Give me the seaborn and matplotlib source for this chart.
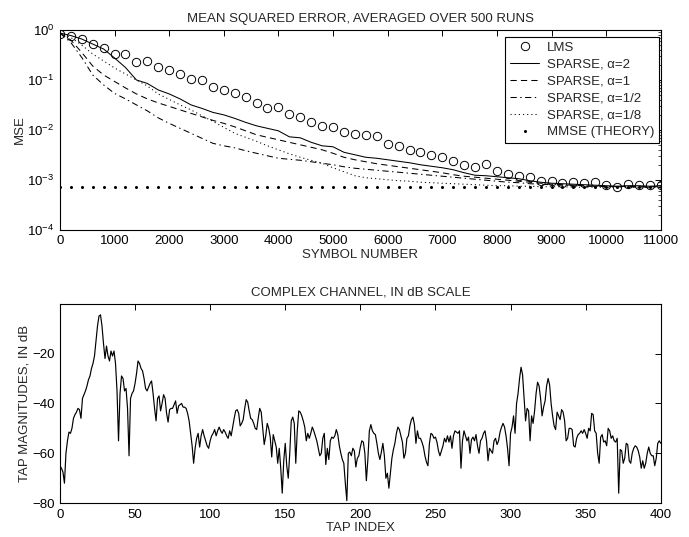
import numpy as np
import pandas as pd
import matplotlib
matplotlib.use("Agg")
import matplotlib.pyplot as plt
import seaborn as sns

# ---------------- learning curves (MSE vs. symbol number) ----------------
symbols = list(range(0, 11001, 200))

# log10 of the mean squared error, sampled every 200 symbols
lms_log10 = [-0.075, -0.11, -0.175, -0.28, -0.36, -0.47, -0.48, -0.65, -0.63, -0.75,
             -0.81, -0.88, -0.98, -1.01, -1.15, -1.20, -1.26, -1.35, -1.455, -1.555,
             -1.54, -1.68, -1.75, -1.85, -1.92, -1.95, -2.05, -2.09, -2.10, -2.13,
             -2.28, -2.32, -2.40, -2.45, -2.50, -2.55, -2.62, -2.70, -2.74, -2.68,
             -2.82, -2.88, -2.92, -2.95, -3.02, -3.02, -3.06, -3.05, -3.07, -3.04,
             -3.10, -3.14, -3.08, -3.10, -3.11, -3.10]
sparse_a2_log10 = [-0.06, -0.11, -0.18, -0.28, -0.38, -0.56, -0.75, -1.00, -1.07, -1.20,
                   -1.28, -1.38, -1.50, -1.57, -1.65, -1.70, -1.77, -1.85, -1.92, -1.97,
                   -2.02, -2.14, -2.16, -2.25, -2.32, -2.34, -2.45, -2.50, -2.55, -2.57,
                   -2.60, -2.63, -2.66, -2.70, -2.73, -2.76, -2.80, -2.86, -2.91, -2.92,
                   -2.94, -2.96, -2.98, -3.02, -3.05, -3.07, -3.08, -3.09, -3.10, -3.11,
                   -3.12, -3.13, -3.12, -3.12, -3.13, -3.12]
sparse_a1_log10 = [-0.06, -0.20, -0.45, -0.72, -0.90, -1.03, -1.16, -1.28, -1.38, -1.46,
                   -1.53, -1.60, -1.67, -1.74, -1.81, -1.87, -1.94, -2.02, -2.10, -2.15,
                   -2.20, -2.25, -2.30, -2.35, -2.40, -2.47, -2.55, -2.60, -2.64, -2.68,
                   -2.71, -2.74, -2.77, -2.80, -2.83, -2.86, -2.90, -2.93, -2.95, -2.97,
                   -2.99, -3.01, -3.03, -3.05, -3.07, -3.09, -3.10, -3.11, -3.12, -3.13,
                   -3.13, -3.14, -3.13, -3.14, -3.14, -3.14]
sparse_a12_log10 = [-0.06, -0.25, -0.55, -0.90, -1.10, -1.27, -1.38, -1.50, -1.62, -1.76,
                    -1.87, -1.97, -2.07, -2.17, -2.27, -2.32, -2.36, -2.42, -2.47, -2.52,
                    -2.57, -2.59, -2.61, -2.64, -2.67, -2.70, -2.74, -2.77, -2.79, -2.81,
                    -2.83, -2.85, -2.87, -2.89, -2.91, -2.93, -2.95, -2.97, -2.99, -3.01,
                    -3.03, -3.05, -3.06, -3.08, -3.09, -3.10, -3.11, -3.12, -3.13, -3.13,
                    -3.14, -3.14, -3.14, -3.15, -3.15, -3.15]
sparse_a18_log10 = [-0.06, -0.15, -0.30, -0.48, -0.62, -0.76, -0.88, -1.00, -1.12, -1.28,
                    -1.39, -1.50, -1.60, -1.72, -1.83, -1.95, -2.07, -2.15, -2.23, -2.32,
                    -2.40, -2.48, -2.55, -2.61, -2.67, -2.76, -2.84, -2.92, -2.96, -2.98,
                    -3.00, -3.02, -3.03, -3.05, -3.06, -3.07, -3.08, -3.09, -3.10, -3.11,
                    -3.12, -3.12, -3.13, -3.13, -3.14, -3.14, -3.14, -3.15, -3.15, -3.15,
                    -3.15, -3.15, -3.15, -3.15, -3.15, -3.15]
mmse_theory = 7.0e-4

series_labels = ["LMS", "SPARSE, \u03b1=2", "SPARSE, \u03b1=1",
                 "SPARSE, \u03b1=1/2", "SPARSE, \u03b1=1/8", "MMSE (THEORY)"]

# ---------------- channel taps in dB ----------------
tap_db = [
    -65, -66, -67.5, -72, -60, -55, -51.5, -52, -50, -46,
    -44.5, -43.5, -42, -42.5, -46, -38, -36.5, -35, -33, -30.5,
    -29, -26, -24, -21, -15, -9, -5, -4.5, -9, -16,
    -22, -17, -21, -23, -19, -21, -19, -24, -35, -55,
    -36, -29, -30, -35, -34, -42, -61, -38, -36, -35,
    -32, -28, -23, -24, -26, -27, -30, -34, -35, -33.5,
    -32, -31, -36, -42, -47, -38, -37, -43, -40, -36.5,
    -38, -44, -47.5, -42.5, -42, -42, -40.5, -39, -44, -41,
    -40.5, -40, -41.5, -41.5, -42, -44, -47, -52, -57, -64,
    -58, -54, -52, -57.5, -53, -50.5, -53, -55, -57, -58,
    -55, -53, -52, -50.5, -53, -51, -49.5, -51, -52, -50.5,
    -51.5, -53, -54, -51, -53, -49.5, -46, -43, -42.5, -44,
    -49, -48, -46.5, -42, -38.5, -39.5, -43, -46, -46.5, -48,
    -50, -50.5, -46, -42, -43.5, -50, -56.5, -53, -48, -50,
    -53.5, -61.5, -52.5, -55, -57.5, -64, -58, -66, -76, -63,
    -56, -65, -70, -60, -47, -45.5, -48, -64, -51, -43,
    -43.5, -45, -47, -49.5, -55, -52, -54, -52, -49.5, -51,
    -53, -55, -58, -61, -60, -54, -52, -64.5, -58, -62.5,
    -55, -53.5, -54, -53, -50.5, -52.5, -57, -60, -62.5, -64,
    -72, -79, -60, -59.5, -61, -58, -59, -65.5, -62, -61,
    -57.5, -55, -55.5, -60, -71, -62.5, -51, -48.5, -51, -52,
    -52.5, -56, -60, -62.5, -59.5, -56, -61, -70, -68, -74,
    -68, -62, -58.5, -56, -52, -49.5, -50.5, -53, -55.5, -62,
    -60, -54, -53, -49, -46.5, -45.5, -48.5, -56, -51, -54,
    -54, -55.5, -57.5, -61, -63.5, -65, -56, -52, -52.5, -54,
    -53.5, -55.5, -59, -61, -59, -57, -54, -55.5, -53, -55.5,
    -53, -58, -53, -51, -51.5, -52, -51, -66, -55, -51,
    -53, -55, -53.5, -60, -54.5, -53.5, -55, -52.5, -57, -60,
    -55, -54, -52, -51, -55, -63, -58, -59, -60, -55,
    -54, -56.5, -55, -51.5, -49.5, -48, -49.5, -53, -58, -65,
    -52, -49.5, -45, -52, -40, -36, -30, -25.5, -28.5, -38,
    -47, -42, -43, -55, -45, -48, -43, -36, -31.5, -33,
    -38, -45, -41.5, -39, -33, -30, -32.5, -40, -45, -49,
    -50.5, -43.5, -45, -46.5, -42.5, -43.5, -47, -55, -54, -50,
    -50, -50.5, -57, -57.5, -54, -52.5, -52, -51, -52, -50.5,
    -52, -54, -50, -51, -44, -44.5, -51, -52, -60, -64,
    -53.5, -52.5, -55.5, -55, -57, -50, -51, -54, -53, -55,
    -55.5, -54, -76, -58.5, -59, -64, -62, -56, -56.5, -63,
    -64, -60, -58, -57, -57.5, -59, -61.5, -66, -63, -66,
    -64, -60, -57.5, -60, -61, -61, -65, -62, -56, -55,
    -56,
]
tap_index = list(range(len(tap_db)))

# ---------------- styling ----------------
sns.set_theme(style="white")
plt.rcParams["font.family"] = ["Liberation Sans", "DejaVu Sans"]
plt.rcParams["mathtext.fontset"] = "custom"
plt.rcParams["mathtext.rm"] = "Liberation Sans"
plt.rcParams["mathtext.it"] = "Liberation Sans:italic"
plt.rcParams["lines.scale_dashes"] = False
plt.rcParams["axes.edgecolor"] = "black"
plt.rcParams["axes.linewidth"] = 0.8

fig, (ax1, ax2) = plt.subplots(2, 1, figsize=(6.89, 5.37), dpi=100)
fig.subplots_adjust(left=0.087, right=0.959, top=0.944, bottom=0.063, hspace=0.371)

curves = pd.DataFrame({
    "symbol": symbols,
    "lms": 10.0 ** np.array(lms_log10),
    "a2": 10.0 ** np.array(sparse_a2_log10),
    "a1": 10.0 ** np.array(sparse_a1_log10),
    "a12": 10.0 ** np.array(sparse_a12_log10),
    "a18": 10.0 ** np.array(sparse_a18_log10),
    "mmse": mmse_theory,
})

lw = 0.75
sns.lineplot(data=curves, x="symbol", y="lms", ax=ax1, color="black", linestyle="none",
             marker="o", markersize=6.0, markerfacecolor="none", markeredgecolor="black",
             markeredgewidth=0.7, label=series_labels[0])
sns.lineplot(data=curves, x="symbol", y="a2", ax=ax1, color="black", lw=lw,
             label=series_labels[1])
sns.lineplot(data=curves, x="symbol", y="a1", ax=ax1, color="black", lw=lw,
             dashes=(4.5, 3), label=series_labels[2])
sns.lineplot(data=curves, x="symbol", y="a12", ax=ax1, color="black", lw=lw,
             dashes=(4.5, 2.5, 1, 2.5), label=series_labels[3])
sns.lineplot(data=curves, x="symbol", y="a18", ax=ax1, color="black", lw=lw,
             dashes=(0.8, 2.2), label=series_labels[4])
sns.lineplot(data=curves, x="symbol", y="mmse", ax=ax1, color="black", linestyle="none",
             marker="o", markersize=2.2, markeredgecolor="black", markeredgewidth=0,
             label=series_labels[5])

ax1.set_yscale("log")
ax1.set_xlim(0, 11000)
ax1.set_ylim(1e-4, 1)
ax1.set_xticks(range(0, 11001, 1000))
ax1.set_title("MEAN SQUARED ERROR, AVERAGED OVER 500 RUNS", fontsize=9.5, pad=6)
ax1.set_xlabel("SYMBOL NUMBER", fontsize=9.5, labelpad=1)
ax1.set_ylabel("MSE", fontsize=9.5, labelpad=1)

leg = ax1.legend(loc="upper right", bbox_to_anchor=(0.997, 0.965), borderaxespad=0,
                 fontsize=9.5, frameon=True, fancybox=False, handlelength=2.2,
                 handletextpad=0.6, labelspacing=0.35, borderpad=0.35)
leg.get_frame().set_edgecolor("black")
leg.get_frame().set_linewidth(0.8)
leg.get_frame().set_alpha(1)

taps = pd.DataFrame({"tap": tap_index, "db": tap_db})
sns.lineplot(data=taps, x="tap", y="db", ax=ax2, color="black", lw=0.85)
ax2.set_xlim(0, 400)
ax2.set_ylim(-80, 0)
ax2.set_xticks(range(0, 401, 50))
ax2.set_yticks([-80, -60, -40, -20])
ax2.set_title("COMPLEX CHANNEL, IN dB SCALE", fontsize=9.5, pad=6)
ax2.set_xlabel("TAP INDEX", fontsize=9.5, labelpad=1)
ax2.set_ylabel("TAP MAGNITUDES, IN dB", fontsize=9.5, labelpad=1)

for ax in (ax1, ax2):
    ax.tick_params(which="both", direction="in", top=True, right=True,
                   labelsize=9.5, colors="black", pad=4)
    ax.tick_params(which="major", length=4, width=0.7)
    ax.tick_params(which="minor", length=2, width=0.5)
    for sp in ax.spines.values():
        sp.set_visible(True)
        sp.set_color("black")
        sp.set_linewidth(0.8)
    ax.set_facecolor("white")

fig.savefig("out.png", dpi=100, facecolor="white")
